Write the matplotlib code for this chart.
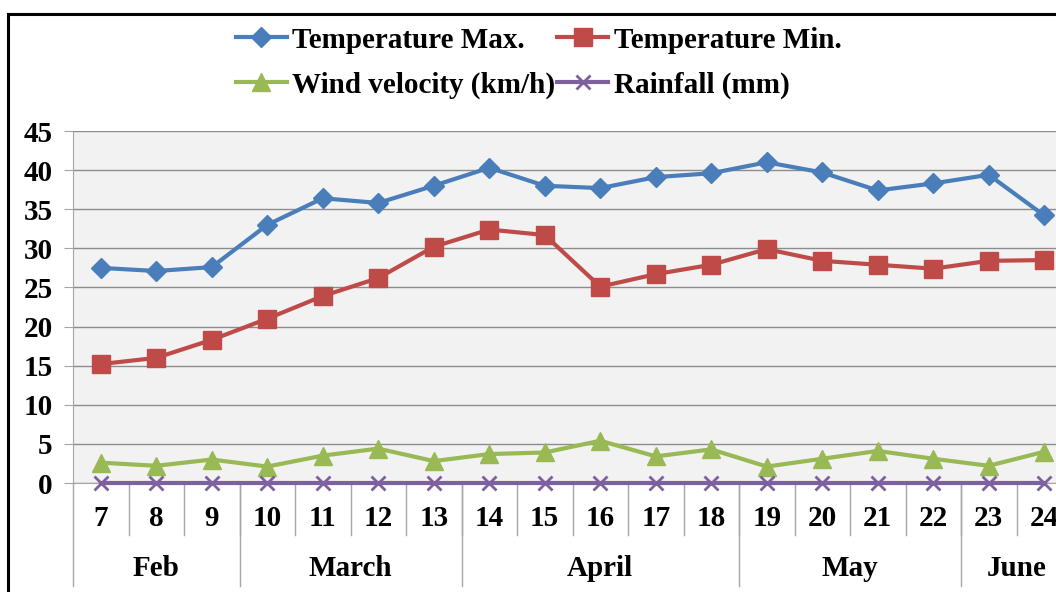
import numpy as np
import matplotlib.pyplot as plt
from matplotlib.patches import Rectangle
import matplotlib.transforms as mtransforms

plt.rcParams['font.family'] = ['Liberation Serif', 'DejaVu Serif']
plt.rcParams['font.weight'] = 'bold'
plt.rcParams['font.size'] = 21

#%% Data
weeks = ['7', '8', '9', '10', '11', '12', '13', '14', '15', '16', '17', '18',
         '19', '20', '21', '22', '23', '24']
months = ['Feb', 'March', 'April', 'May', 'June']
month_weeks = [3, 4, 5, 4, 2]

temp_max = [27.5, 27.1, 27.6, 33.0, 36.4, 35.8, 38.0, 40.3, 38.0, 37.7, 39.1, 39.6,
            41.0, 39.7, 37.4, 38.3, 39.4, 34.2]
temp_min = [15.2, 16.0, 18.3, 21.0, 23.9, 26.2, 30.2, 32.4, 31.7, 25.1, 26.7, 27.9,
            29.9, 28.4, 27.9, 27.4, 28.4, 28.5]
wind = [2.6, 2.2, 3.0, 2.1, 3.5, 4.4, 2.8, 3.7, 3.9, 5.4, 3.4, 4.3,
        2.1, 3.1, 4.1, 3.1, 2.2, 4.0]
rain = [0] * 18

#%% Figure
W, H = 1056, 592
fig = plt.figure(figsize=(W / 100, H / 100), dpi=100)
fig.patch.set_facecolor('white')

# plot area (right edge runs past the figure)
left, right, top, bottom = 73, 1072, 131, 483
ax = fig.add_axes([left / W, 1 - bottom / H, (right - left) / W, (bottom - top) / H])
ax.set_facecolor('#F2F2F2')
ax.set_xlim(-0.5, len(weeks) - 0.5)
ax.set_ylim(0, 45)
ax.set_yticks(np.arange(0, 46, 5))
ax.grid(axis='y', color='#8C8C8C', lw=1.0)
ax.set_axisbelow(True)
for s in ['top', 'right']:
    ax.spines[s].set_visible(False)
ax.spines['left'].set_color('#A6A6A6')
ax.spines['bottom'].set_color('#A6A6A6')
ax.tick_params(axis='y', length=6.5, color='#A6A6A6', pad=8, labelsize=21)
ax.set_xticks([])

x = np.arange(len(weeks))
series = [
    (temp_max, '#4A7EBB', 'D', 10.5, 'Temperature Max.'),
    (temp_min, '#BE4B48', 's', 13, 'Temperature Min.'),
    (wind, '#98B954', '^', 13, 'Wind velocity (km/h)'),
    (rain, '#7D60A0', 'x', 10, 'Rainfall (mm)'),
]
handles = []
for vals, col, mk, ms, lab in series:
    mew = 2 if mk == 'x' else 1
    ln, = ax.plot(x, vals, color=col, lw=3, marker=mk, ms=ms, mfc=col, mec=col,
                  mew=mew, label=lab, clip_on=False, zorder=3)
    handles.append(ln)

# category axis: week labels, month labels and separators
trans = mtransforms.blended_transform_factory(ax.transData, ax.transAxes)
px = 1 / (bottom - top)
for i, w in enumerate(weeks):
    ax.text(i, -(518 - bottom) * px, w, transform=trans, ha='center', va='center',
            fontsize=21, fontweight='bold')
for i in range(1, len(weeks)):
    ax.plot([i - 0.5, i - 0.5], [0, -(535 - bottom) * px], transform=trans,
            color='#A6A6A6', lw=1, clip_on=False)
start = 0
for m, n in zip(months, month_weeks):
    ax.plot([start - 0.5, start - 0.5], [0, -(586 - bottom) * px], transform=trans,
            color='#A6A6A6', lw=1, clip_on=False)
    ax.text(start + (n - 1) / 2, -(569 - bottom) * px, m, transform=trans,
            ha='center', va='center', fontsize=21, fontweight='bold')
    start += n

#%% Legend (filled column by column, so order gives rows Max|Min, Wind|Rain)
leg_order = [handles[0], handles[2], handles[1], handles[3]]
fig.legend(handles=leg_order, loc='upper left', bbox_to_anchor=(221 / W, 1 - 12 / H),
           ncol=2, frameon=False, borderpad=0, handlelength=1.75, handletextpad=0.2,
           columnspacing=0.05, labelspacing=0.62, fontsize=21)

# chart border
fig.patches.append(Rectangle((7.5 / W, -0.1), 1.2, 1 - 13.5 / H + 0.1,
                             transform=fig.transFigure, fill=False,
                             ec='black', lw=2.2))

fig.savefig('out.png', dpi=100)
